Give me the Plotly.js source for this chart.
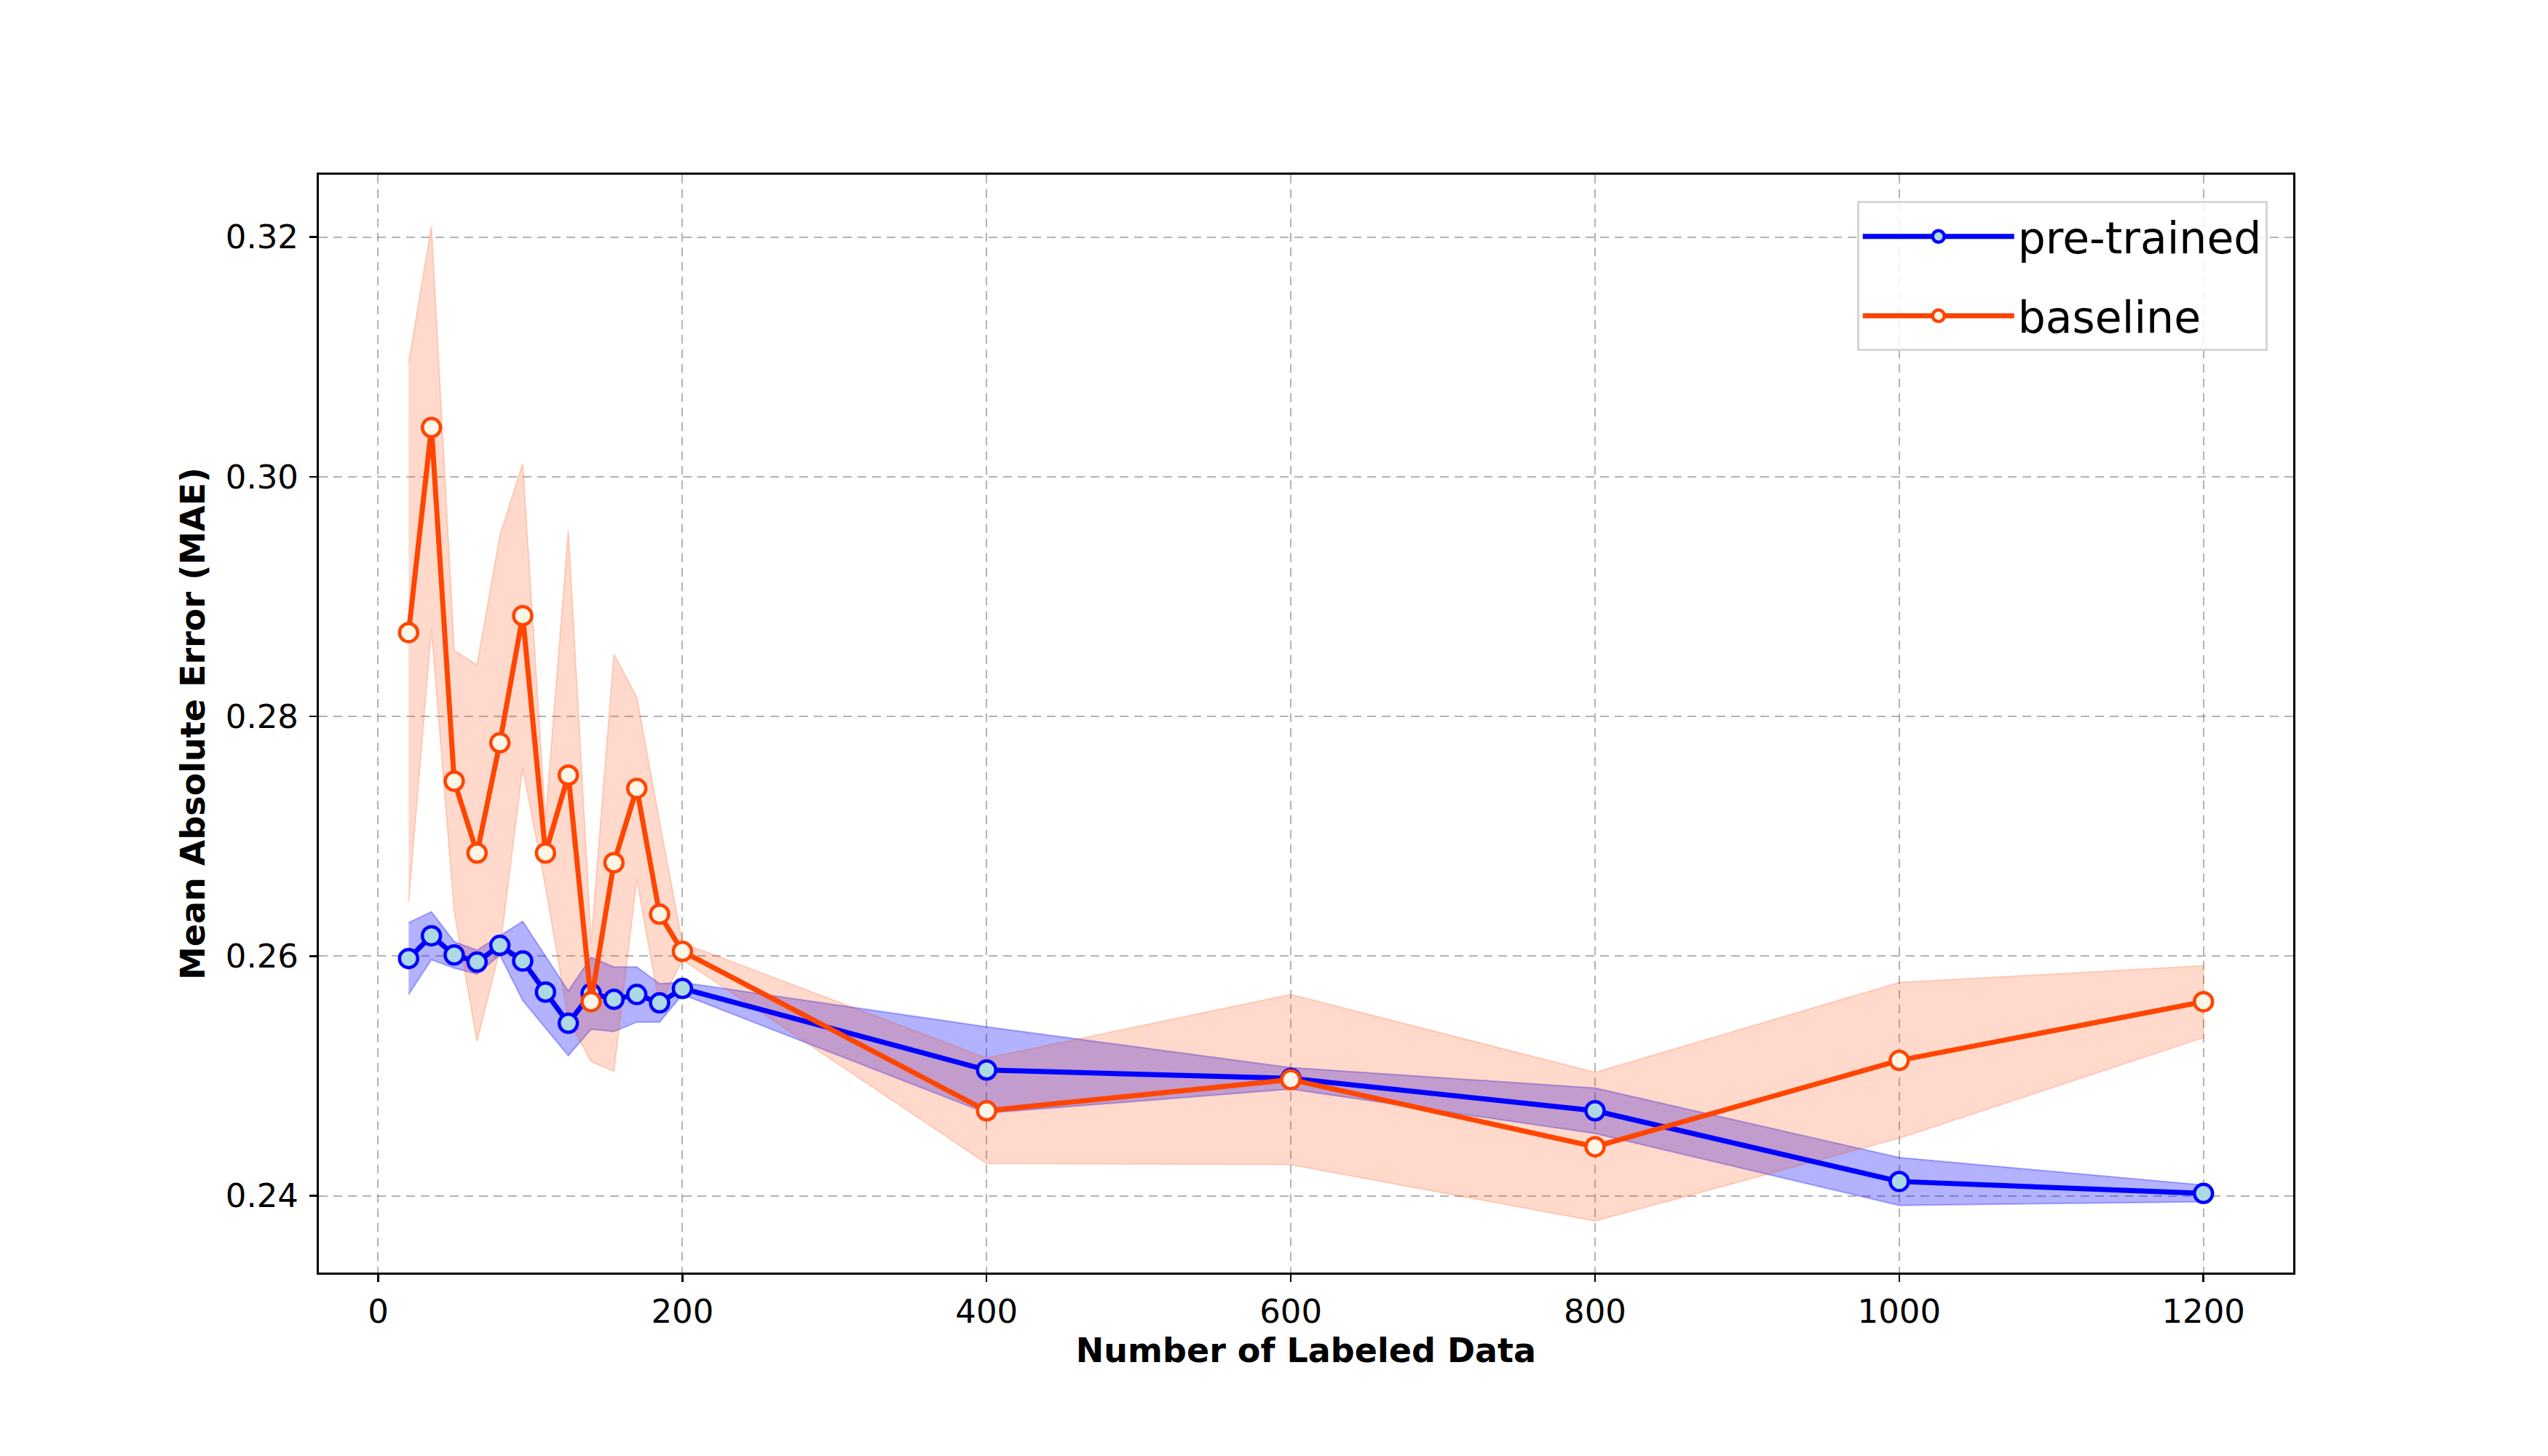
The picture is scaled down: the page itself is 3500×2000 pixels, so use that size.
<!DOCTYPE html>
<html>
<head>
<meta charset="utf-8">
<script src="https://cdn.plot.ly/plotly-3.0.1.min.js"></script>
<style>
  body{margin:0;background:#fff}
  #chart{width:3500px;height:2000px}
</style>
</head>
<body>
<div id="chart"></div>
<script>
// number of labeled samples
const nLabeled = [20,35,50,65,80,95,110,125,140,155,170,185,200,400,600,800,1000,1200]

// pre-trained model: mean MAE and spread
const preMean = [0.2598,0.2617,0.2601,0.2595,0.2609,0.2596,0.2570,0.2544,0.2569,0.2564,0.2568,0.2561,0.2573,0.2505,0.2498,0.2471,0.2412,0.2402]
const preStd  = [0.0030,0.0020,0.0011,0.0010,0.0008,0.0033,0.0030,0.0027,0.0030,0.0027,0.0023,0.0016,0.0005,0.0036,0.0009,0.0019,0.0020,0.0007]

// baseline: mean MAE and spread
const baseMean = [0.2870,0.3041,0.2746,0.2686,0.2778,0.2884,0.2686,0.2751,0.2562,0.2678,0.2740,0.2635,0.2604,0.2471,0.2497,0.2441,0.2513,0.2562]
const baseStd  = [0.0225,0.0168,0.0109,0.0157,0.0173,0.0127,0.0028,0.0204,0.0050,0.0174,0.0076,0.0077,0.0007,0.0044,0.0071,0.0062,0.0065,0.0030]

const xTicks = [0,200,400,600,800,1000,1200]
const yTicks = [0.24,0.26,0.28,0.30,0.32]

const FONT = 'DejaVu Sans, sans-serif'

// closed polygon mean+std -> mean-std
function band(mean, std, fill){
    let up = mean.map((m,i)=>m+std[i])
    let lo = mean.map((m,i)=>m-std[i])
    return {
        x: nLabeled.concat(nLabeled.slice().reverse()),
        y: up.concat(lo.reverse()),
        type: 'scatter',
        mode: 'lines',
        fill: 'toself',
        fillcolor: fill,
        line: {color: fill, width: 2},
        hoverinfo: 'skip',
        showlegend: false
    }
}

function meanLine(name, mean, color, face, grp){
    return {
        x: nLabeled,
        y: mean,
        name: name,
        legendgroup: grp,
        type: 'scatter',
        mode: 'lines+markers',
        line: {color: color, width: 7},
        marker: {size: 25, color: face, line: {color: color, width: 4.5}}
    }
}

let traces = [
    band(preMean, preStd, 'rgba(0,0,255,0.3)'),
    band(baseMean, baseStd, 'rgba(255,69,0,0.2)'),
    meanLine('pre-trained', preMean, '#0000ff', '#add8e6', 'a'),
    meanLine('baseline', baseMean, '#ff4500', '#fdf5e6', 'b')
]

let axisCommon = {
    showline: true,
    mirror: true,
    linecolor: '#000',
    linewidth: 3,
    ticks: 'outside',
    ticklen: 10,
    tickwidth: 2.5,
    tickcolor: '#000',
    showgrid: true,
    gridcolor: 'rgba(128,128,128,0.6)',
    gridwidth: 2,
    griddash: '12px,8px',
    zeroline: false,
    tickfont: {family: FONT, size: 45, color: '#000'}
}

let layout = {
    width: 3500,
    height: 2000,
    paper_bgcolor: '#fff',
    plot_bgcolor: '#fff',
    margin: {l: 438, r: 350, t: 240, b: 252},
    xaxis: Object.assign({}, axisCommon, {
        range: [-39, 1259],
        tickmode: 'array',
        tickvals: xTicks,
        ticktext: xTicks.map(v=>v.toString()),
        ticklabelstandoff: 2,
        title: {text: '<b>Number of Labeled Data</b>', font: {family: FONT, size: 46, color: '#000'}, standoff: 8}
    }),
    yaxis: Object.assign({}, axisCommon, {
        range: [0.2336, 0.3252],
        tickmode: 'array',
        tickvals: yTicks,
        ticktext: yTicks.map(v=>v.toFixed(2)),
        ticklabelstandoff: 6,
        title: {text: '<b>Mean Absolute Error (MAE)</b>', font: {family: FONT, size: 46, color: '#000'}, standoff: 14}
    }),
    legend: {
        x: 0.987, y: 0.976,
        xanchor: 'right', yanchor: 'top',
        bgcolor: 'rgba(255,255,255,0.85)',
        bordercolor: '#d6d6d6',
        borderwidth: 3,
        font: {family: FONT, size: 60, color: '#000'},
        traceorder: 'grouped',
        tracegroupgap: 28,
        itemwidth: 208
    },
    showlegend: true
}

Plotly.newPlot(document.getElementById('chart'), traces, layout, {displayModeBar: false, staticPlot: true})
</script>
</body>
</html>
